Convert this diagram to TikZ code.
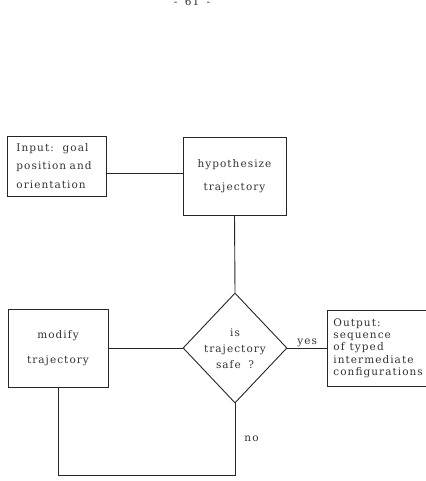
\documentclass[tikz,border=0pt]{standalone}
\usepackage{fontspec}
\setmainfont{DejaVu Serif}[LetterSpace=10, WordSpace=1.7]
\usetikzlibrary{shapes.geometric}

\begin{document}
\begin{tikzpicture}[x=1pt,y=-1pt,
  ink/.style={draw=black!85, line width=0.9pt},
  txt/.style={text=black!80, font=\fontsize{10.5}{13}\selectfont},
  box/.style={ink, rectangle, inner sep=0pt, txt},
  decision/.style={ink, diamond, inner sep=0pt, minimum width=104pt, minimum height=110pt},
  lbl/.style={txt, inner sep=1pt}
]
\useasboundingbox (0,0) rectangle (425,481);
\fill[white] (0,0) rectangle (425,481);

% page number, running off the top edge
\node[txt] (page) at (192,1.5) {- 61 -};

% boxes
\node[box, anchor=west, minimum width=99pt, minimum height=60pt,
      inner xsep=9pt, text width=81pt, align=left,
      font=\fontsize{10.5}{18.5}\selectfont] (input) at (7,166)
      {\makebox[72pt][l]{Input:\hfill goal}\\position and\\orientation};

\node[box, minimum width=103pt, minimum height=78pt, align=center,
      font=\fontsize{10.5}{23}\selectfont] (hyp) at (234.5,176)
      {hypothesize\\trajectory};

\node[decision] (diam) at (235,348) {};
\node[txt, align=center, font=\fontsize{10.5}{16}\selectfont] (ask) at (235,349)
      {is\\trajectory\\safe ?};

\node[box, minimum width=100pt, minimum height=78pt, align=center,
      font=\fontsize{10.5}{25}\selectfont] (mod) at (58,348)
      {modify\\trajectory};

\node[box, anchor=west, minimum height=76pt, inner xsep=6pt, text width=100pt,
      align=left, font=\fontsize{10.5}{12.3}\selectfont] (out) at (327,348)
      {Output:\\sequence\\of\hspace{5pt}typed\\intermediate\\configurations};

% connectors
\coordinate (loop) at (0,475);
\draw[ink] ([yshift=-7pt]input.east) -- ([yshift=3pt]hyp.west);
\draw[ink] (hyp.south) -- (diam.north);
\draw[ink] (mod.east) -- (diam.west);
\draw[ink] (diam.east) -- node[lbl, midway, yshift=5pt] (yes) {yes} (out.west);
\draw[ink] (diam.south) -- node[lbl, midway, right=8pt] (no) {no} (diam.south |- loop) -| (mod.south);
\end{tikzpicture}
\end{document}
